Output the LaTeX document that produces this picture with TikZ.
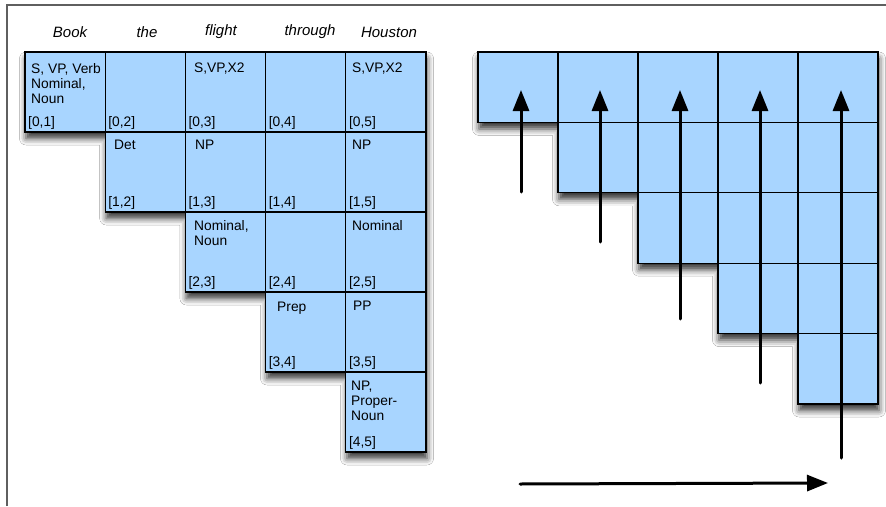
\documentclass[tikz,border=0pt]{standalone}
\usepackage{fontspec}
\setmainfont{Liberation Sans}
\usetikzlibrary{shadows.blur,arrows.meta}
\definecolor{cellblue}{RGB}{168,213,255}
\definecolor{framegray}{RGB}{95,95,95}
\newcommand{\celltext}[1]{\begin{tabular}[t]{@{}l@{}}#1\end{tabular}}
\begin{document}
\begin{tikzpicture}[x=1pt,y=-1pt,
  cell/.style={draw=black,line width=1.2pt,fill=cellblue,minimum width=80.2pt,minimum height=80pt,inner sep=0pt,outer sep=0pt},
  rcell/.style={cell,minimum width=80pt,minimum height=70.4pt},
  word/.style={font=\fontsize{15}{17}\selectfont\itshape,inner sep=0pt},
  lab/.style={font=\fontsize{13.8}{15.3}\selectfont,anchor=base west,inner sep=0pt},
  idx/.style={font=\fontsize{13.8}{15}\selectfont,anchor=base west,inner sep=0pt},
  arr/.style={line width=3pt,line cap=round,-{Triangle[length=21pt,width=16pt,fill=black]}},
  shadowshape/.style={fill=cellblue,blur shadow={shadow xshift=1pt,shadow yshift=-6.5pt,shadow blur radius=6.5pt,shadow opacity=80}}]
\useasboundingbox (0,0) rectangle (886,506);
\fill[white] (0,0) rectangle (886,506);
\draw[framegray,line width=1.6pt] (7,506) -- (7,5) -- (886,5);

% header words
\node[word] (wBook) at (70,32) {Book};
\node[word] (wthe) at (147,32) {the};
\node[word] (wflight) at (221,32) {flight};
\node[word] (wthrough) at (310,32) {through};
\node[word] (wHouston) at (389,32) {Houston};

% left chart shadow
\path[shadowshape] (25,52) -- (426,52) -- (426,452) -- (346,452) -- (346,372) -- (266,372) -- (266,292) -- (185.4,292) -- (185.4,212) -- (105.2,212) -- (105.2,132) -- (25,132) -- cycle;
% left chart cells
\foreach \r in {0,...,4}{
  \foreach \c in {\r,...,4}{
    \node[cell] (L\r\c) at ({65.1+80.2*\c},{92+80*\r}) {};
  }
}
% cell contents
\node[lab] (t00) at (31,73) {\celltext{S, VP, Verb\\Nominal,\\Noun}};
\node[lab] (t02) at (194,72) {S,VP,X2};
\node[lab] (t04) at (352,72) {S,VP,X2};
\node[lab] (t11) at (114,149) {Det};
\node[lab] (t12) at (195,149) {NP};
\node[lab] (t14) at (352,149) {NP};
\node[lab] (t22) at (194,230) {\celltext{Nominal,\\Noun}};
\node[lab] (t24) at (352,230) {Nominal};
\node[lab] (t33) at (277,311) {Prep};
\node[lab] (t34) at (353,310) {PP};
\node[lab] (t44) at (351,390) {\celltext{NP,\\Proper-\\Noun}};
% indices
\foreach \r in {0,...,4}{
  \foreach \c [evaluate=\c as \e using int(\c+1)] in {\r,...,4}{
    \node[idx] (i\r\c) at ({28+80.2*\c},{126+80*\r}) {[\r,\e]};
  }
}

% right chart shadow
\path[shadowshape] (478,52) -- (878,52) -- (878,404) -- (798,404) -- (798,333.6) -- (718,333.6) -- (718,263.2) -- (638,263.2) -- (638,192.8) -- (558,192.8) -- (558,122.4) -- (478,122.4) -- cycle;
\foreach \r in {0,...,4}{
  \foreach \c in {\r,...,4}{
    \node[rcell] (R\r\c) at ({518+80*\c},{87.2+70.4*\r}) {};
  }
}

% arrows
\coordinate (a1t) at (521,192); \coordinate (a1h) at (521,90);
\coordinate (a2t) at (600,242); \coordinate (a2h) at (600,90);
\coordinate (a3t) at (680,319); \coordinate (a3h) at (680,90);
\coordinate (a4t) at (760,383); \coordinate (a4h) at (760,90);
\coordinate (a5t) at (841,458); \coordinate (a5h) at (841,90);
\coordinate (bt) at (520,484); \coordinate (bh) at (828,483);
\draw[arr] (a1t) -- (a1h);
\draw[arr] (a2t) -- (a2h);
\draw[arr] (a3t) -- (a3h);
\draw[arr] (a4t) -- (a4h);
\draw[arr] (a5t) -- (a5h);
\draw[arr] (bt) -- (bh);
\end{tikzpicture}
\end{document}
